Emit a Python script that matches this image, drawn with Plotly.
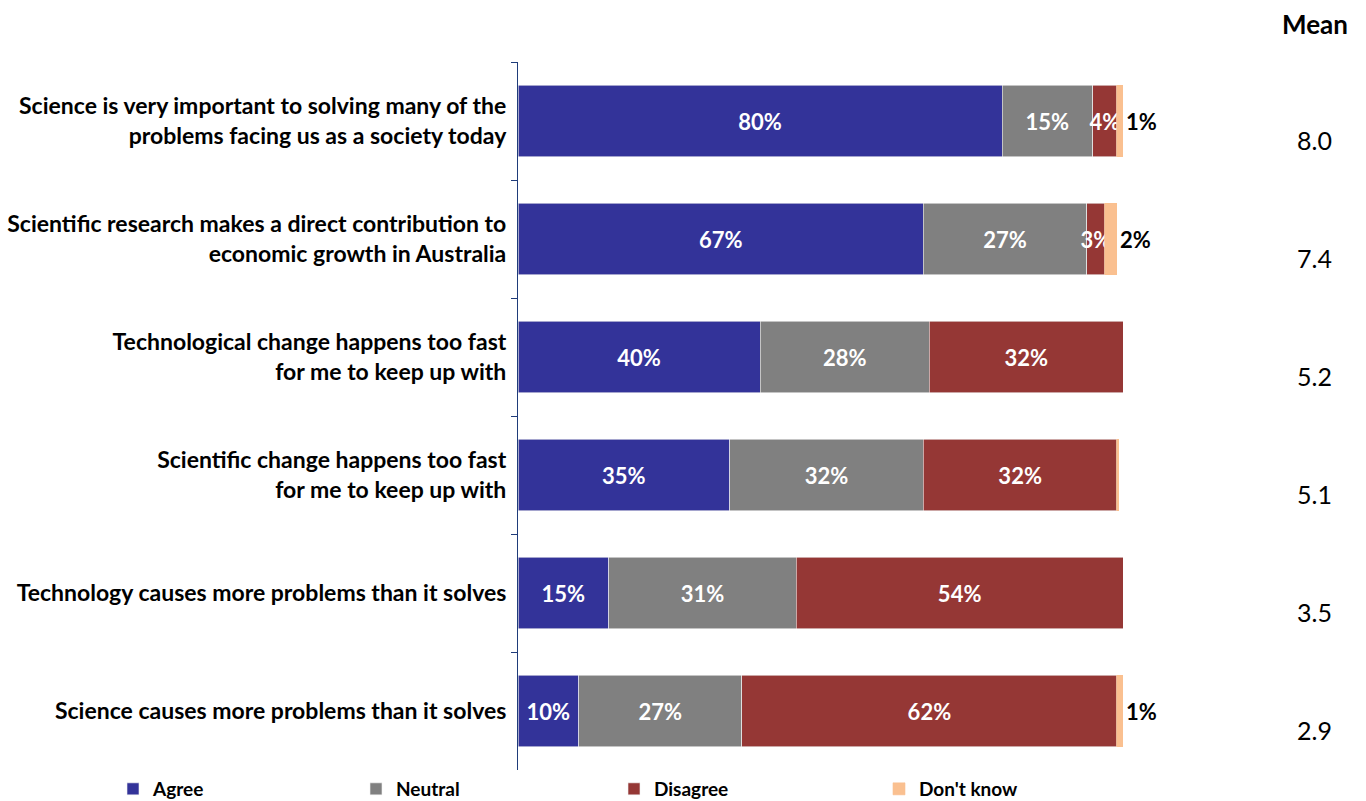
import plotly.graph_objects as go

statements = [
    "Science is very important to solving many of the<br>problems facing us as a society today",
    "Scientific research makes a direct contribution to<br>economic growth in Australia",
    "Technological change happens too fast<br>for me to keep up with",
    "Scientific change happens too fast<br>for me to keep up with",
    "Technology causes more problems than it solves",
    "Science causes more problems than it solves",
]
agree = [80, 67, 40, 35, 15, 10]
neutral = [15, 27, 28, 32, 31, 27]
disagree = [4, 3, 32, 32, 54, 62]
dont_know = [1, 2, 0, 0.3, 0.3, 1]
dont_know_labels = ["1%", "2%", "", "", "", "1%"]
means = [8.0, 7.4, 5.2, 5.1, 3.5, 2.9]

series = [
    ("Agree", agree, "#333399"),
    ("Neutral", neutral, "#808080"),
    ("Disagree", disagree, "#953735"),
]

FONT = "Lato"
legend_ids = ["legend", "legend2", "legend3", "legend4"]
legend_x = [113, 356, 614, 879]  # left edge of each legend entry, px

fig = go.Figure()
for i, (name, vals, color) in enumerate(series):
    fig.add_trace(go.Bar(
        y=statements, x=vals, name=name, orientation="h",
        marker=dict(color=color, line=dict(color="#f2f2f2", width=0.6)),
        text=[f"{v}%" for v in vals], textposition="inside", textangle=0,
        insidetextanchor="middle", constraintext="none",
        textfont=dict(family=FONT, size=22, color="white", weight="bold"),
        legend=legend_ids[i], showlegend=True,
    ))

fig.add_trace(go.Bar(
    y=statements, x=dont_know, name="Don't know", orientation="h",
    marker=dict(color="#FAC090", line=dict(color="#FAC090", width=0.6)),
    text=dont_know_labels, textposition="outside", textangle=0,
    constraintext="none", cliponaxis=False,
    textfont=dict(family=FONT, size=22, color="black", weight="bold"),
    legend=legend_ids[3], showlegend=True,
))

annotations = [dict(
    text="<b>Mean</b>", xref="paper", yref="paper", x=1.318, y=1.054,
    xanchor="center", yanchor="middle",
    showarrow=False, font=dict(family=FONT, size=26, color="black"),
)]
for s, m in zip(statements, means):
    annotations.append(dict(
        text=f"{m:.1f}", xref="paper", yref="y", x=1.317, y=s, yshift=-19,
        xanchor="center", yanchor="middle",
        showarrow=False, font=dict(family=FONT, size=25, color="black"),
    ))

legend_style = dict(
    orientation="h", xref="container", xanchor="left",
    yref="container", y=0.015, yanchor="middle",
    font=dict(family=FONT, size=19, color="black", weight="bold"),
    itemwidth=30, bgcolor="rgba(0,0,0,0)",
)
legends = {lid: dict(legend_style, x=px / 1366) for lid, px in zip(legend_ids, legend_x)}

fig.update_layout(
    width=1366, height=801,
    barmode="stack", bargap=0.39,
    showlegend=True,
    plot_bgcolor="white", paper_bgcolor="white",
    margin=dict(l=518, r=243, t=62, b=31, autoexpand=False),
    font=dict(family=FONT, color="black"),
    xaxis=dict(range=[0, 100], visible=False, fixedrange=True),
    yaxis=dict(
        autorange="reversed", showline=True, linecolor="#1F3C7A", linewidth=1.2,
        ticks="outside", tickson="boundaries", ticklen=6, tickcolor="#1F3C7A",
        ticklabelstandoff=6,
        tickfont=dict(family=FONT, size=23, color="black", weight="bold"),
        showgrid=False,
    ),
    annotations=annotations,
    **legends,
)

fig.write_html("out.html")
